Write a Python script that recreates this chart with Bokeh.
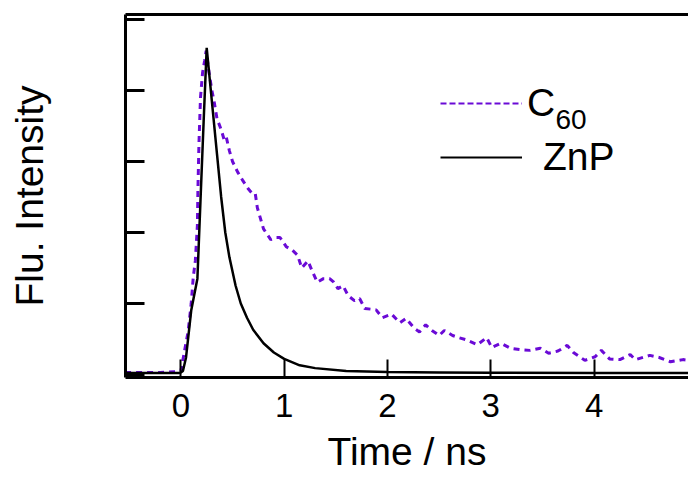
from bokeh.plotting import figure
from bokeh.models import (Range1d, FixedTicker, LinearAxis, Legend, LegendItem,
                          Label, CustomJSTickFormatter)
from bokeh.embed import file_html
from bokeh.resources import INLINE

# ---------------- data ----------------
x_ticks = [0, 1, 2, 3, 4]
x_tick_labels = ["0", "1", "2", "3", "4"]
y_ticks = [0, 1, 2, 3, 4, 5]

znp_t = [-0.54, -0.2, -0.02, 0.0, 0.02, 0.05, 0.1, 0.16, 0.19, 0.22, 0.25,
         0.27, 0.3, 0.35, 0.39, 0.43, 0.47, 0.53, 0.58, 0.64, 0.7, 0.8, 0.9,
         1.0, 1.15, 1.3, 1.6, 2.0, 2.5, 3.0, 4.0, 4.92]
znp_v = [0.02, 0.02, 0.02, 0.03, 0.05, 0.24, 0.9, 1.35, 2.45, 3.55, 4.6,
         4.3, 3.85, 3.1, 2.5, 2.0, 1.65, 1.25, 1.0, 0.8, 0.63, 0.44, 0.31,
         0.22, 0.13, 0.09, 0.05, 0.035, 0.03, 0.025, 0.02, 0.02]

c60_t = [-0.54, -0.4, -0.2, -0.05, 0.0, 0.05, 0.07, 0.1, 0.12, 0.14, 0.16,
         0.165, 0.175, 0.19, 0.21, 0.23, 0.245, 0.27, 0.3, 0.32, 0.35, 0.39,
         0.42, 0.44, 0.47, 0.5, 0.55, 0.6, 0.65, 0.69, 0.72, 0.74, 0.8, 0.87,
         0.92, 0.96, 1.02, 1.08, 1.13, 1.17, 1.23, 1.27, 1.32, 1.38, 1.44,
         1.48, 1.52, 1.57, 1.62, 1.68, 1.73, 1.78, 1.84, 1.89, 1.95, 2.04,
         2.12, 2.18, 2.26, 2.31, 2.37, 2.43, 2.5, 2.55, 2.63, 2.69, 2.76,
         2.87, 2.96, 3.01, 3.1, 3.19, 3.29, 3.38, 3.48, 3.56, 3.65, 3.74,
         3.8, 3.91, 4.01, 4.07, 4.15, 4.25, 4.35, 4.4, 4.54, 4.63, 4.74,
         4.86, 4.92]
c60_v = [0.03, 0.03, 0.03, 0.04, 0.05, 0.45, 0.6, 1.0, 1.37, 1.6, 2.1,
         2.6, 3.25, 3.9, 4.25, 4.42, 4.56, 4.28, 4.0, 3.86, 3.6, 3.45,
         3.3, 3.34, 3.15, 3.0, 2.85, 2.73, 2.62, 2.55, 2.55, 2.35, 2.05, 1.9,
         1.93, 1.93, 1.8, 1.75, 1.68, 1.5, 1.6, 1.46, 1.3, 1.35, 1.35,
         1.3, 1.21, 1.25, 1.11, 1.04, 1.07, 0.93, 0.92, 0.91, 0.8, 0.85,
         0.73, 0.79, 0.65, 0.6, 0.7, 0.62, 0.55, 0.62, 0.55, 0.52, 0.49,
         0.42, 0.52, 0.38, 0.44, 0.37, 0.35, 0.34, 0.37, 0.3, 0.33, 0.41,
         0.31, 0.2, 0.25, 0.34, 0.22, 0.21, 0.28, 0.21, 0.27, 0.24, 0.18,
         0.21, 0.2]

series_names = ["C", "ZnP"]
c60_sub = "60"
x_label = "Time / ns"
y_label = "Flu. Intensity"

FONT = "Liberation Sans"
PURPLE = "#6a0ad6"
NAN = float("nan")

p = figure(width=688, height=477, output_backend="svg", toolbar_location=None,
           x_range=Range1d(-0.536, 4.914), y_range=Range1d(-0.042, 5.07),
           min_border_left=125, min_border_right=0, min_border_top=14,
           min_border_bottom=100)
p.grid.visible = False
p.outline_line_color = None
p.background_fill_color = "white"
p.border_fill_color = "white"

# x axis
xa = p.xaxis[0]
xa.ticker = FixedTicker(ticks=x_ticks)
xa.major_label_overrides = {t: l for t, l in zip(x_ticks, x_tick_labels)}
xa.major_tick_in = 18
xa.major_tick_out = 0
xa.minor_tick_in = 0
xa.minor_tick_out = 0
xa.axis_line_width = 3
xa.major_tick_line_width = 2
xa.major_label_text_font = FONT
xa.major_label_text_font_size = "33px"
xa.major_label_text_color = "black"
xa.major_label_standoff = 16
xa.axis_label = x_label
xa.axis_label_text_font = FONT
xa.axis_label_text_font_size = "39px"
xa.axis_label_text_font_style = "normal"
xa.axis_label_text_color = "black"
xa.axis_label_standoff = 10

# y axis
ya = p.yaxis[0]
ya.ticker = FixedTicker(ticks=y_ticks)
ya.formatter = CustomJSTickFormatter(code="return ''")
ya.major_label_text_font_size = "0px"
ya.major_label_standoff = 0
ya.major_tick_in = 19
ya.major_tick_out = 0
ya.minor_tick_in = 0
ya.minor_tick_out = 0
ya.axis_line_width = 3
ya.major_tick_line_width = 3
ya.axis_label = y_label
ya.axis_label_text_font = FONT
ya.axis_label_text_font_size = "39px"
ya.axis_label_text_font_style = "normal"
ya.axis_label_text_color = "black"
ya.axis_label_standoff = 75

# top frame line
top = LinearAxis(ticker=FixedTicker(ticks=[]), axis_line_width=3,
                 major_tick_in=0, major_tick_out=0, minor_tick_in=0,
                 minor_tick_out=0, major_label_text_font_size="0px",
                 major_label_standoff=0)
p.add_layout(top, "above")

# data lines
p.line(c60_t, c60_v, line_color=PURPLE, line_width=3, line_dash="6 5")
p.line(znp_t, znp_v, line_color="black", line_width=2.5)

# legend keys (styled like the reference legend; no visible data)
k1 = p.line([NAN, NAN], [NAN, NAN], line_color=PURPLE, line_width=2,
            line_dash="6 3")
k2 = p.line([NAN, NAN], [NAN, NAN], line_color="black", line_width=2)

common = dict(padding=0, margin=0, spacing=0, glyph_width=82, glyph_height=50,
              label_height=50, label_text_font=FONT,
              label_text_font_size="39px", label_text_color="black",
              background_fill_alpha=0, border_line_alpha=0)
leg1 = Legend(items=[LegendItem(label=series_names[0], renderers=[k1])],
              location=(315, 249), label_standoff=5, **common)
leg2 = Legend(items=[LegendItem(label=series_names[1], renderers=[k2])],
              location=(315, 195), label_standoff=21, **common)
p.add_layout(leg1, "center")
p.add_layout(leg2, "center")

sub = Label(x=430, y=258, x_units="screen", y_units="screen", text=c60_sub,
            text_font=FONT, text_font_size="28px", text_color="black",
            text_baseline="alphabetic")
p.add_layout(sub)

open("out.html", "w").write(file_html(p, INLINE))
